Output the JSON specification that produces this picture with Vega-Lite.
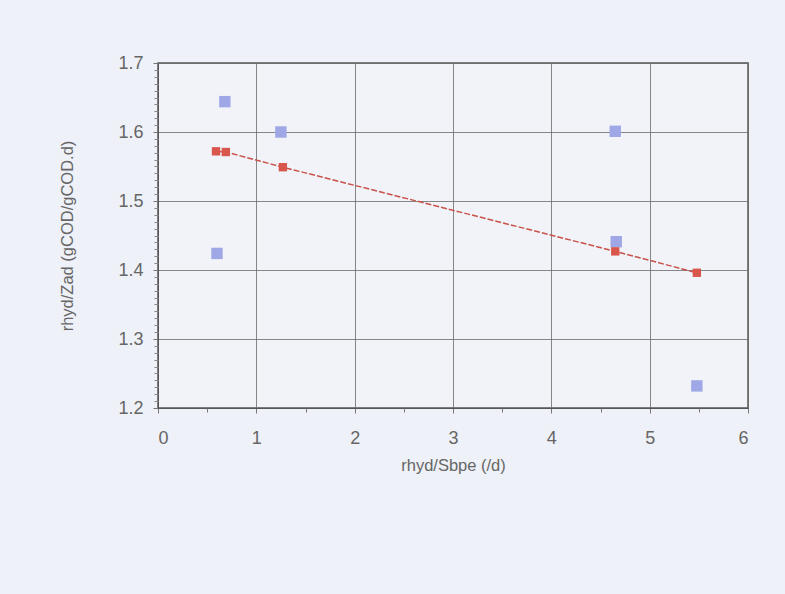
{
  "$schema": "https://vega.github.io/schema/vega-lite/v6.json",
  "autosize": "none",
  "width": 590,
  "height": 345,
  "padding": {"left": 158, "top": 63, "right": 37, "bottom": 186},
  "background": "#eef1f7",
  "config": {
    "view": {"stroke": "#555555", "strokeWidth": 1.5, "fill": "#f1f3f9"},
    "axis": {
      "labelFont": "Liberation Sans",
      "titleFont": "Liberation Sans",
      "labelColor": "#666666",
      "titleColor": "#666666",
      "labelFontSize": 18,
      "titleFontSize": 16.5,
      "titleFontWeight": "normal",
      "gridColor": "#6a6a6a",
      "gridWidth": 1,
      "gridOpacity": 0.8,
      "domainColor": "#555555",
      "tickColor": "#777777"
    }
  },
  "datasets": {
    "pts": [
      {"x": 0.68, "y": 1.644, "s": "measured"},
      {"x": 1.25, "y": 1.600, "s": "measured"},
      {"x": 4.65, "y": 1.601, "s": "measured"},
      {"x": 0.60, "y": 1.424, "s": "measured"},
      {"x": 4.66, "y": 1.441, "s": "measured"},
      {"x": 5.48, "y": 1.232, "s": "measured"},
      {"x": 0.59, "y": 1.572, "s": "model"},
      {"x": 0.69, "y": 1.571, "s": "model"},
      {"x": 1.27, "y": 1.549, "s": "model"},
      {"x": 4.65, "y": 1.427, "s": "model"},
      {"x": 5.48, "y": 1.396, "s": "model"}
    ]
  },
  "data": {"name": "pts"},
  "resolve": {"axis": {"x": "independent", "y": "independent"}},
  "layer": [
    {
      "transform": [{"filter": "datum.s == 'measured'"}],
      "mark": {"type": "square", "size": 130, "color": "#a0a7e6", "opacity": 1},
      "encoding": {
        "x": {
          "field": "x", "type": "quantitative",
          "scale": {"domain": [0, 6], "nice": false},
          "axis": {"orient": "bottom", "values": [0, 1, 2, 3, 4, 5, 6], "title": "rhyd/Sbpe (/d)", "labelPadding": 16, "tickSize": 5, "titlePadding": 10, "format": "d"}
        },
        "y": {
          "field": "y", "type": "quantitative",
          "scale": {"domain": [1.2, 1.7], "nice": false, "zero": false},
          "axis": {"orient": "left", "values": [1.2, 1.3, 1.4, 1.5, 1.6, 1.7], "title": "rhyd/Zad (gCOD/gCOD.d)", "labelPadding": 10, "tickSize": 5, "titlePadding": 42, "format": ".1f"}
        }
      }
    },
    {
      "transform": [{"filter": "datum.s == 'model'"}],
      "mark": {"type": "line", "color": "#c9524a", "strokeWidth": 1.5, "strokeDash": [6, 2]},
      "encoding": {
        "x": {"field": "x", "type": "quantitative", "axis": {"orient": "bottom", "values": [0.5, 1.5, 2.5, 3.5, 4.5, 5.5], "labels": false, "title": null, "grid": false, "domain": false, "tickSize": 4}},
        "y": {"field": "y", "type": "quantitative", "axis": {"orient": "left", "values": [1.21, 1.22, 1.23, 1.24, 1.25, 1.26, 1.27, 1.28, 1.29, 1.31, 1.32, 1.33, 1.34, 1.35, 1.36, 1.37, 1.38, 1.39, 1.41, 1.42, 1.43, 1.44, 1.45, 1.46, 1.47, 1.48, 1.49, 1.51, 1.52, 1.53, 1.54, 1.55, 1.56, 1.57, 1.58, 1.59, 1.61, 1.62, 1.63, 1.64, 1.65, 1.66, 1.67, 1.68, 1.69], "labels": false, "title": null, "grid": false, "domain": false, "tickSize": 4, "tickColor": "#888888"}}
      }
    },
    {
      "transform": [{"filter": "datum.s == 'model'"}],
      "mark": {"type": "square", "size": 70, "color": "#d9564c", "opacity": 1},
      "encoding": {
        "x": {"field": "x", "type": "quantitative", "axis": null},
        "y": {"field": "y", "type": "quantitative", "axis": null}
      }
    }
  ]
}
